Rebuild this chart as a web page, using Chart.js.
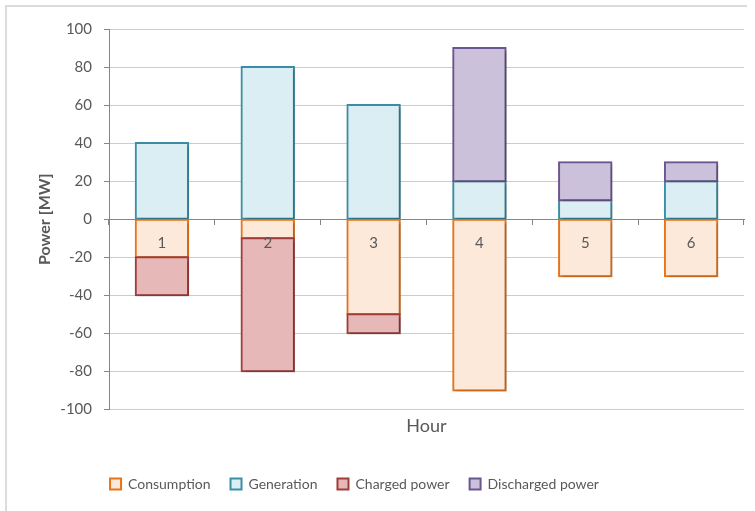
<!DOCTYPE html>
<html>
<head>
<meta charset="utf-8">
<script src="https://cdn.jsdelivr.net/npm/chart.js@4"></script>
<style>
  html, body { margin: 0; padding: 0; background: #fff; }
  #wrap { position: relative; width: 755px; height: 511px; overflow: hidden; }
  #frame { position: absolute; left: 5px; top: 5px; width: 740px; height: 530px;
           border-top: 2px solid #dcdcdc; border-left: 2px solid #dcdcdc; pointer-events: none; }
</style>
</head>
<body>
<div id="wrap"><canvas id="c"></canvas><div id="frame"></div></div>
<script>
// Hourly power balance, MW
const hours = ['1', '2', '3', '4', '5', '6'];
const consumption = [-20, -10, -50, -90, -30, -30];
const generation = [40, 80, 60, 20, 10, 20];
const chargedPower = [-20, -70, -10, null, null, null];
const dischargedPower = [null, null, null, 70, 20, 10];

const FONT = 'Lato, "Open Sans", sans-serif';
const TEXT = '#595959';
const AXIS = '#868686';

// Paint series in list order (later series over earlier ones, so the
// shared edge of two stacked segments takes the outer segment's colour),
// with a soft drop shadow under the bars.
const barLayering = {
  id: 'barLayering',
  beforeDatasetsDraw(chart) {
    const c = chart.ctx;
    c.save();
    c.shadowColor = 'rgba(0,0,0,0.25)';
    c.shadowBlur = 3;
    c.shadowOffsetX = 2;
    c.shadowOffsetY = 2;
    chart.getSortedVisibleDatasetMetas().forEach(meta => meta.controller.draw());
    c.restore();
    return false;
  }
};

// the legend row sits a little left of the canvas centre
const legendShift = {
  id: 'legendShift',
  afterLayout(chart, args, opts) {
    const lg = chart.legend;
    if (!lg) return;
    lg.left += opts.dx;
    lg.right += opts.dx;
  }
};

function series(label, data, fill, stroke) {
  return {
    label, data,
    backgroundColor: fill,
    borderColor: stroke,
    borderWidth: 2,
    borderSkipped: false,
    inflateAmount: 1,
    categoryPercentage: 1,
    barPercentage: 0.495
  };
}

new Chart(document.getElementById('c'), {
  type: 'bar',
  data: {
    labels: hours,
    datasets: [
      series('Consumption', consumption, '#fde9d9', '#e8741a'),
      series('Generation', generation, '#daeef3', '#3b8ea5'),
      series('Charged power', chargedPower, '#e6b9b8', '#a03c3a'),
      series('Discharged power', dischargedPower, '#ccc1da', '#6a5690')
    ]
  },
  options: {
    responsive: true,
    maintainAspectRatio: false,
    animation: false,
    layout: { padding: { left: 33, right: 11, top: 29, bottom: 10 } },
    scales: {
      x: {
        type: 'category',
        stacked: true,
        position: { y: 0 },
        offset: true,
        grid: { drawOnChartArea: false, offset: true, tickLength: 5, color: AXIS, z: 1 },
        border: { color: AXIS, width: 1, z: 1 },
        ticks: { color: TEXT, font: { family: FONT, size: 15 }, padding: 10, z: 1 }
      },
      xTitle: {
        type: 'category',
        position: 'bottom',
        grid: { display: false, drawTicks: false },
        border: { display: false },
        ticks: { display: false },
        title: { display: true, text: 'Hour', color: TEXT, font: { family: FONT, size: 18 }, padding: { top: 6, bottom: 20 } }
      },
      y: {
        stacked: true,
        min: -100,
        max: 100,
        afterFit(scale) { scale.width = 76; },
        ticks: { stepSize: 20, color: TEXT, font: { family: FONT, size: 15 }, padding: 12 },
        grid: { color: '#cccccc', tickLength: 5, tickColor: AXIS },
        border: { color: AXIS },
        title: { display: true, text: 'Power [MW]', color: TEXT, font: { family: FONT, size: 16, weight: 'bold' }, padding: { top: 2, bottom: 0 } }
      }
    },
    plugins: {
      legend: {
        position: 'bottom',
        labels: { boxWidth: 11, boxHeight: 11, color: TEXT, font: { family: FONT, size: 14 }, padding: 20 }
      },
      legendShift: { dx: -34 },
      tooltip: { enabled: false }
    }
  },
  plugins: [barLayering, legendShift]
});
</script>
</body>
</html>
